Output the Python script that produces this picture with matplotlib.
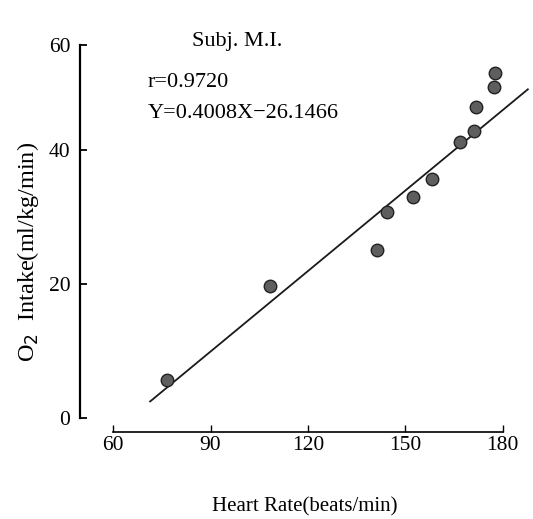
import matplotlib
matplotlib.use("Agg")
import matplotlib.pyplot as plt
import numpy as np

# heart rate (beats/min) vs O2 intake (ml/kg/min), subject M.I.
heart_rate = [76.6, 108.3, 141.2, 144.3, 152.3, 158.2, 166.8, 171.1, 171.7, 177.2, 177.5]
o2_intake = [5.7, 19.7, 25.1, 30.7, 33.0, 35.7, 41.2, 42.8, 46.4, 49.4, 51.5]

# regression
slope = 0.4008
intercept = -26.1466
fit_range = [71.4, 187.7]

x_ticks = [60, 90, 120, 150, 180]
y_ticks = [0, 20, 40, 55.7]
y_tick_labels = ["0", "20", "40", "60"]

plt.rcParams['font.family'] = ['Liberation Serif', 'DejaVu Serif']

fig = plt.figure(figsize=(5.33, 5.19), dpi=100)
ax = fig.add_axes([0.150, 0.1676, 0.844, 0.7457])

ax.set_xlim(49.8, 188.3)
ax.set_ylim(-2.09, 55.7)

fx = np.array(fit_range)
ax.plot(fx, slope * fx + intercept, color='#1a1a1a', lw=1.3, clip_on=False, zorder=2)
ax.plot(heart_rate, o2_intake, 'o', ms=9, mfc='#5e5e5e', mec='#222222', mew=1.0,
        clip_on=False, zorder=3)

for s in ['top', 'right']:
    ax.spines[s].set_visible(False)
ax.spines['left'].set_bounds(0, 55.7)
ax.spines['bottom'].set_bounds(60, 180)
ax.spines['left'].set_linewidth(1.6)
ax.spines['bottom'].set_linewidth(1.2)

ax.set_xticks(x_ticks)
ax.set_yticks(y_ticks)
ax.set_yticklabels(y_tick_labels)
ax.tick_params(axis='y', direction='in', length=5, width=1.3, labelsize=15.5, pad=7)
ax.tick_params(axis='x', direction='in', length=5, width=1.0, labelsize=15.5, pad=3)

ax.set_xlabel('Heart Rate(beats/min)', fontsize=15, labelpad=30)
fig.text(0.052, 0.514, 'O$_2$  Intake(ml/kg/min)', rotation=90, ha='center', va='center', fontsize=17.5)

ax.text(0.349, 1.008, 'Subj. M.I.', transform=ax.transAxes, ha='center', va='center', fontsize=16)
ax.text(0.151, 0.902, 'r=0.9720', transform=ax.transAxes, ha='left', va='center', fontsize=16)
ax.text(0.151, 0.824, 'Y=0.4008X\u221226.1466', transform=ax.transAxes, ha='left', va='center', fontsize=16)

fig.savefig('out.png', dpi=100)
